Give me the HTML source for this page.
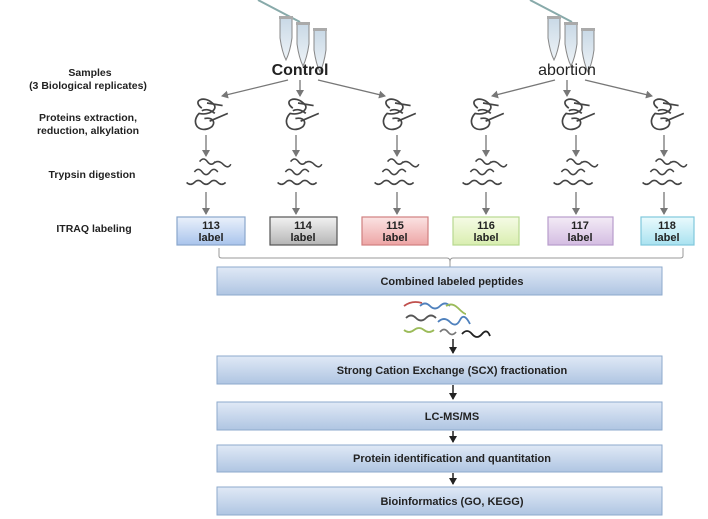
<!DOCTYPE html>
<html><head><meta charset="utf-8"><style>
html,body{margin:0;padding:0;background:#fff;}
svg{display:block;}
text{font-family:"Liberation Sans",sans-serif;font-weight:bold;fill:#222;}
</style></head><body>
<svg width="708" height="519" viewBox="0 0 708 519" xmlns="http://www.w3.org/2000/svg">
<defs>
<linearGradient id="bl" x1="0" y1="0" x2="0" y2="1"><stop offset="0" stop-color="#e0e9f6"/><stop offset="1" stop-color="#afc5e2"/></linearGradient>
<linearGradient id="l1" x1="0" y1="0" x2="0" y2="1"><stop offset="0" stop-color="#eaf1fb"/><stop offset="1" stop-color="#a9c4ec"/></linearGradient>
<linearGradient id="l2" x1="0" y1="0" x2="0" y2="1"><stop offset="0" stop-color="#f2f2f2"/><stop offset="1" stop-color="#b5b5b5"/></linearGradient>
<linearGradient id="l3" x1="0" y1="0" x2="0" y2="1"><stop offset="0" stop-color="#fbe3e3"/><stop offset="1" stop-color="#eda5a5"/></linearGradient>
<linearGradient id="l4" x1="0" y1="0" x2="0" y2="1"><stop offset="0" stop-color="#f6fbe6"/><stop offset="1" stop-color="#d9eeb0"/></linearGradient>
<linearGradient id="l5" x1="0" y1="0" x2="0" y2="1"><stop offset="0" stop-color="#f3ebf6"/><stop offset="1" stop-color="#d4bde2"/></linearGradient>
<linearGradient id="l6" x1="0" y1="0" x2="0" y2="1"><stop offset="0" stop-color="#eafafd"/><stop offset="1" stop-color="#a9e2f0"/></linearGradient>
<linearGradient id="tb" x1="0" y1="0" x2="0" y2="1"><stop offset="0" stop-color="#c9d9e6"/><stop offset="1" stop-color="#eef3f7"/></linearGradient>
<marker id="ag" markerWidth="8" markerHeight="8" refX="6" refY="4" orient="auto" markerUnits="userSpaceOnUse"><path d="M0,0 L7,4 L0,8 z" fill="#777"/></marker>
<marker id="ak" markerWidth="8" markerHeight="8" refX="6" refY="4" orient="auto" markerUnits="userSpaceOnUse"><path d="M0,0 L7,4 L0,8 z" fill="#222"/></marker>
<g id="tube"><path d="M0,10 L0,30 Q2,44 6,52 Q10,44 12,30 L12,10 z" fill="url(#tb)" stroke="#888" stroke-width="1"/><rect x="-1" y="8" width="14" height="3" fill="#aaa"/></g>
<g id="blob" fill="none" stroke="#444" stroke-width="1.3"><path d="M-4,-6 C-12,-12 -2,-16 4,-10 C10,-6 2,0 -6,-2 C-12,4 -8,12 0,10 C8,8 6,0 -2,2 M0,-10 L12,-8 M2,4 L16,-2 M-4,-4 C0,-6 4,-4 6,-2" transform="scale(1.3)"/></g>
<g id="sq" fill="none" stroke="#444" stroke-width="1.2"><path d="M-8,-8 q3,-4 6,0 t6,0 M2,-6 q4,-4 8,0 t6,0 M-12,0 q3,-4 6,0 t6,0 t6,0 M-18,8 q3,3 6,0 t6,0 t6,0 t6,0 t6,0" transform="scale(1.3)"/></g>
</defs>

<line x1="258" y1="0" x2="300" y2="22" stroke="#8aa" stroke-width="2"/>
<use href="#tube" x="280" y="8"/><use href="#tube" x="297" y="14"/><use href="#tube" x="314" y="20"/>
<line x1="530" y1="0" x2="572" y2="22" stroke="#8aa" stroke-width="2"/>
<use href="#tube" x="548" y="8"/><use href="#tube" x="565" y="14"/><use href="#tube" x="582" y="20"/>

<text x="300" y="75" font-size="16" text-anchor="middle">Control</text>
<text x="567" y="75" font-size="16" text-anchor="middle" style="font-weight:normal">abortion</text>

<g font-size="10.5" text-anchor="middle">
<text x="90" y="76">Samples</text>
<text x="88" y="89">(3 Biological replicates)</text>
<text x="88" y="121">Proteins extraction,</text>
<text x="88" y="134">reduction, alkylation</text>
<text x="92" y="178">Trypsin digestion</text>
<text x="94" y="232">ITRAQ labeling</text>
</g>

<g stroke="#777" stroke-width="1.3" fill="none">
<line x1="288" y1="80" x2="222" y2="96" marker-end="url(#ag)"/>
<line x1="300" y1="80" x2="300" y2="96" marker-end="url(#ag)"/>
<line x1="318" y1="80" x2="385" y2="96" marker-end="url(#ag)"/>
<line x1="555" y1="80" x2="492" y2="96" marker-end="url(#ag)"/>
<line x1="567" y1="80" x2="567" y2="96" marker-end="url(#ag)"/>
<line x1="585" y1="80" x2="652" y2="96" marker-end="url(#ag)"/>
</g>

<g>
<use href="#blob" x="207" y="116"/><use href="#blob" x="298" y="116"/><use href="#blob" x="395" y="116"/>
<use href="#blob" x="483" y="116"/><use href="#blob" x="574" y="116"/><use href="#blob" x="663" y="116"/>
<use href="#sq" x="210" y="172"/><use href="#sq" x="301" y="172"/><use href="#sq" x="398" y="172"/>
<use href="#sq" x="486" y="172"/><use href="#sq" x="577" y="172"/><use href="#sq" x="666" y="172"/>
</g>
<g stroke="#777" stroke-width="1.3">
<line x1="206" y1="135" x2="206" y2="156" marker-end="url(#ag)"/><line x1="296" y1="135" x2="296" y2="156" marker-end="url(#ag)"/><line x1="397" y1="135" x2="397" y2="156" marker-end="url(#ag)"/>
<line x1="486" y1="135" x2="486" y2="156" marker-end="url(#ag)"/><line x1="576" y1="135" x2="576" y2="156" marker-end="url(#ag)"/><line x1="664" y1="135" x2="664" y2="156" marker-end="url(#ag)"/>
<line x1="206" y1="192" x2="206" y2="214" marker-end="url(#ag)"/><line x1="296" y1="192" x2="296" y2="214" marker-end="url(#ag)"/><line x1="397" y1="192" x2="397" y2="214" marker-end="url(#ag)"/>
<line x1="486" y1="192" x2="486" y2="214" marker-end="url(#ag)"/><line x1="576" y1="192" x2="576" y2="214" marker-end="url(#ag)"/><line x1="664" y1="192" x2="664" y2="214" marker-end="url(#ag)"/>
</g>

<g stroke-width="1.2" font-size="11">
<rect x="177" y="217" width="68" height="28" fill="url(#l1)" stroke="#8aa6cc"/>
<rect x="270" y="217" width="67" height="28" fill="url(#l2)" stroke="#555"/>
<rect x="362" y="217" width="66" height="28" fill="url(#l3)" stroke="#d08080"/>
<rect x="453" y="217" width="66" height="28" fill="url(#l4)" stroke="#b8d890"/>
<rect x="548" y="217" width="65" height="28" fill="url(#l5)" stroke="#b89ccc"/>
<rect x="641" y="217" width="53" height="28" fill="url(#l6)" stroke="#80c8dc"/>
</g>
<g font-size="11" text-anchor="middle">
<text x="211" y="229">113</text><text x="211" y="241">label</text>
<text x="303" y="229">114</text><text x="303" y="241">label</text>
<text x="395" y="229">115</text><text x="395" y="241">label</text>
<text x="486" y="229">116</text><text x="486" y="241">label</text>
<text x="580" y="229">117</text><text x="580" y="241">label</text>
<text x="667" y="229">118</text><text x="667" y="241">label</text>
</g>

<path d="M219,248 L219,256 Q219,258 222,258 L447,258 Q450,258 450,262 Q450,258 453,258 L680,258 Q683,258 683,256 L683,248" fill="none" stroke="#999" stroke-width="1"/>
<line x1="450" y1="260" x2="450" y2="267" stroke="#999"/>

<g stroke="#8eaacc" stroke-width="1" fill="url(#bl)">
<rect x="217" y="267" width="445" height="28"/>
<rect x="217" y="356" width="445" height="28"/>
<rect x="217" y="402" width="445" height="28"/>
<rect x="217" y="445" width="445" height="27"/>
<rect x="217" y="487" width="445" height="28"/>
</g>
<g font-size="11" text-anchor="middle">
<text x="452" y="285">Combined labeled peptides</text>
<text x="452" y="374">Strong Cation Exchange (SCX) fractionation</text>
<text x="452" y="420">LC-MS/MS</text>
<text x="452" y="462">Protein identification and quantitation</text>
<text x="452" y="505">Bioinformatics (GO, KEGG)</text>
</g>

<g fill="none" stroke-width="1.8">
<path d="M404,306 q8,-6 18,-3" stroke="#c0504d"/>
<path d="M420,306 q5,-5 10,0 t10,0 t10,0" stroke="#4f81bd"/>
<path d="M446,306 q6,-4 12,2 t8,6" stroke="#9bbb59"/>
<path d="M406,318 q5,-5 10,0 t10,0 t10,0" stroke="#555"/>
<path d="M438,322 q6,-6 12,0 t10,-2 t10,4" stroke="#4f81bd"/>
<path d="M404,330 q5,4 10,0 t10,0 t10,0" stroke="#9bbb59"/>
<path d="M440,332 q4,-5 8,0 t8,0" stroke="#777"/>
<path d="M462,334 q5,-6 10,0 t10,0 t8,2" stroke="#222"/>
</g>

<g stroke="#222" stroke-width="1.5">
<line x1="453" y1="339" x2="453" y2="353" marker-end="url(#ak)"/>
<line x1="453" y1="385" x2="453" y2="399" marker-end="url(#ak)"/>
<line x1="453" y1="431" x2="453" y2="442" marker-end="url(#ak)"/>
<line x1="453" y1="473" x2="453" y2="484" marker-end="url(#ak)"/>
</g>
</svg>
</body></html>
